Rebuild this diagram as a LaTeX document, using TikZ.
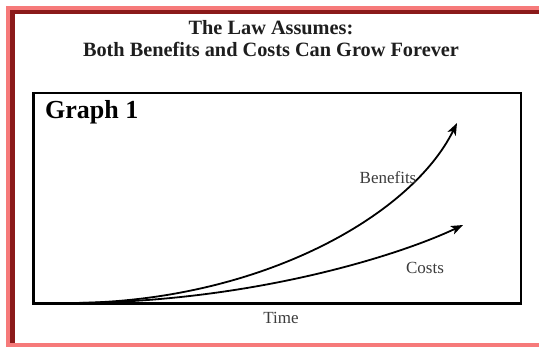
\documentclass[tikz,border=0pt]{standalone}
\usepackage{fontspec}
\setmainfont{Liberation Serif}
\usetikzlibrary{arrows.meta}
\definecolor{pinkb}{RGB}{246,122,122}
\definecolor{darkb}{RGB}{139,26,26}
\definecolor{inkc}{RGB}{30,30,30}
\definecolor{lblc}{RGB}{60,60,60}
\begin{document}
\begin{tikzpicture}[x=1bp,y=-1bp,
  titletext/.style={font=\fontsize{20.3bp}{22bp}\selectfont\bfseries, text=inkc, inner sep=0},
  graphtext/.style={font=\fontsize{26bp}{28bp}\selectfont\bfseries, text=black, inner sep=0},
  lbl/.style={font=\fontsize{17bp}{19bp}\selectfont, text=lblc, inner sep=0},
  curve/.style={line width=1.8bp, draw=black, -{Stealth[length=12bp,width=9bp,inset=3bp]}},
  framebox/.style={draw=black, line width=2.6bp, fill=white, inner sep=0}]
\useasboundingbox (0,0) rectangle (539,347);
\fill[white] (0,0) rectangle (539,347);
% outer border
\fill[pinkb] (6,6) rectangle (539,10);
\fill[pinkb] (6,6) rectangle (10,347);
\fill[pinkb] (6,343) rectangle (539,347);
\fill[darkb] (10,10) rectangle (539,14);
\fill[darkb] (10,10) rectangle (15,343);
% title
\node[titletext] (t1) at (271,28) {The Law Assumes:};
\node[titletext] (t2) at (271,49) {Both Benefits and Costs Can Grow Forever};
% graph frame
\node[framebox, minimum width=487.5bp, minimum height=210.5bp] (box) at (277.25,198.25) {};
\node[graphtext, anchor=west] (g1) at (45,112) {Graph 1};
% curves
\coordinate (o1) at (68,303);
\coordinate (bend) at (457,123);
\coordinate (cend) at (463,225);
\draw[curve] (o1) .. controls (255,303) and (410,218) .. (bend);
\draw[curve] (o1) .. controls (250,303) and (400,255) .. (cend);
% labels
\node[lbl] (ben) at (388,178) {Benefits};
\node[lbl] (cost) at (425,268) {Costs};
\node[lbl] (time) at (281,318) {Time};
\end{tikzpicture}
\end{document}
